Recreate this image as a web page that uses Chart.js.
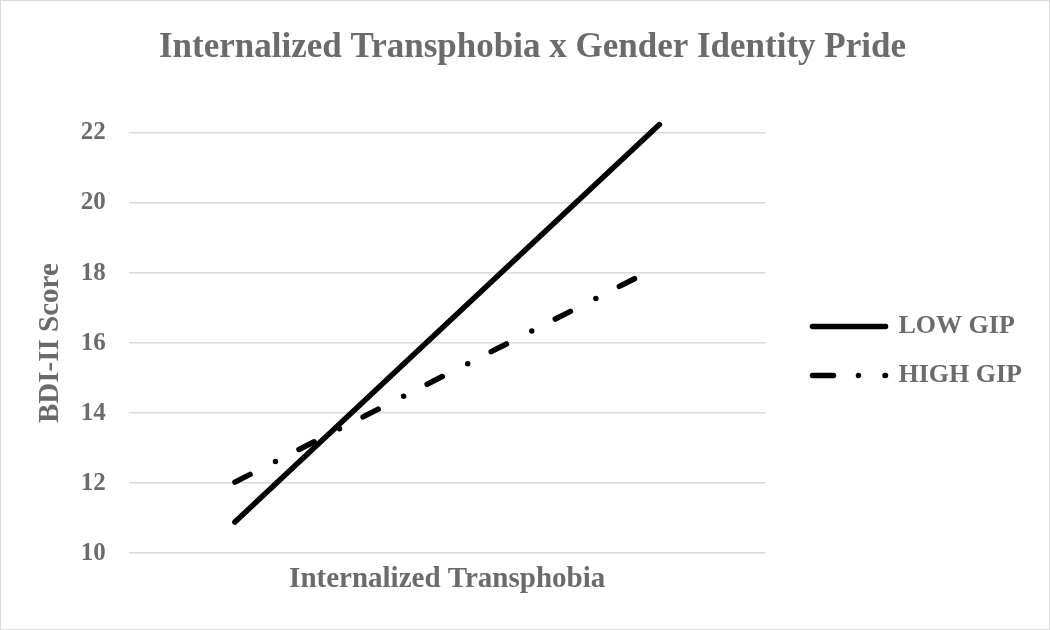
<!DOCTYPE html>
<html>
<head>
<meta charset="utf-8">
<script src="https://cdn.jsdelivr.net/npm/chart.js@4.4.1/dist/chart.umd.min.js"></script>
<style>
  html, body { margin: 0; padding: 0; background: #fff; }
  #wrap { width: 1050px; height: 630px; box-sizing: border-box; border: 1px solid #d9d9d9; }
</style>
</head>
<body>
<div id="wrap"><canvas id="chart"></canvas></div>
<script>
// Simple slopes: -1 SD and +1 SD of internalized transphobia
const xPoints = [-1, 1]
const lowGip = [10.89, 22.24]
const highGip = [12.03, 18.2]
const seriesNames = ['LOW GIP', 'HIGH GIP']

const grey = '#6b6b6b'
const serif = '"Liberation Serif", "Times New Roman", serif'

const toPoints = vals => vals.map((v, i) => ({ x: xPoints[i], y: v }))

// extra room between plot and legend (the legend has no margin option)
const legendGap = 24
const legendDrop = 50
const legendSpacer = {
  id: 'legendSpacer',
  afterInit(chart) {
    const legend = chart.legend
    const fit = legend.fit
    legend.fit = function () {
      fit.call(this)
      this.width += legendGap
    }
  },
  afterLayout(chart) {
    const legend = chart.legend
    legend.left += legendGap
    legend.right += legendGap
    legend.top += legendDrop
    legend.bottom += legendDrop
  },
}

new Chart(document.getElementById('chart'), {
  type: 'line',
  data: {
    datasets: [
      {
        label: seriesNames[0],
        data: toPoints(lowGip),
        borderColor: '#000',
        borderWidth: 5.5,
        borderCapStyle: 'round',
        pointRadius: 0,
        clip: false,
      },
      {
        label: seriesNames[1],
        data: toPoints(highGip),
        borderColor: '#000',
        borderWidth: 5.5,
        borderCapStyle: 'round',
        borderDash: [17, 28.5, 0, 26.4],
        pointRadius: 0,
        clip: false,
      },
    ],
  },
  options: {
    responsive: true,
    maintainAspectRatio: false,
    animation: false,
    layout: { padding: { left: 32, right: 17, bottom: 28 } },
    plugins: {
      title: {
        display: true,
        text: 'Internalized Transphobia x Gender Identity Pride',
        color: grey,
        font: { family: serif, size: 35, weight: 'bold' },
        padding: { top: 26, bottom: 64 },
      },
      legend: {
        position: 'right',
        labels: {
          usePointStyle: true,
          pointStyle: 'line',
          pointStyleWidth: 73,
          color: grey,
          font: { family: serif, size: 26, weight: 'bold' },
          padding: 23,
          generateLabels(chart) {
            const items = Chart.defaults.plugins.legend.labels.generateLabels(chart)
            return items.map(item => {
              const ds = chart.data.datasets[item.datasetIndex]
              return {
                ...item,
                strokeStyle: ds.borderColor,
                lineWidth: ds.borderWidth,
                // the legend sample shows a slightly longer dash
                lineDash: ds.borderDash ? [21, 25, 0, 26.5] : [],
                lineCap: 'round',
                rotation: 180,
              }
            })
          },
        },
      },
      tooltip: { enabled: false },
    },
    scales: {
      x: {
        type: 'linear',
        min: -1.5,
        max: 1.5,
        grid: { display: false, drawTicks: false },
        border: { display: false },
        ticks: { display: false },
        title: {
          display: true,
          text: 'Internalized Transphobia',
          color: grey,
          font: { family: serif, size: 29, weight: 'bold' },
          padding: { top: 9, bottom: 4 },
        },
      },
      y: {
        min: 10,
        max: 22,
        grid: { color: '#d9d9d9', lineWidth: 1.5, drawTicks: false },
        border: { display: false },
        ticks: {
          stepSize: 2,
          padding: 23,
          color: grey,
          font: { family: serif, size: 25, weight: 'bold' },
        },
        title: {
          display: true,
          text: 'BDI-II Score',
          color: grey,
          font: { family: serif, size: 29, weight: 'bold' },
          padding: { top: 0, bottom: -10 },
        },
      },
    },
  },
  plugins: [legendSpacer],
})
</script>
</body>
</html>
